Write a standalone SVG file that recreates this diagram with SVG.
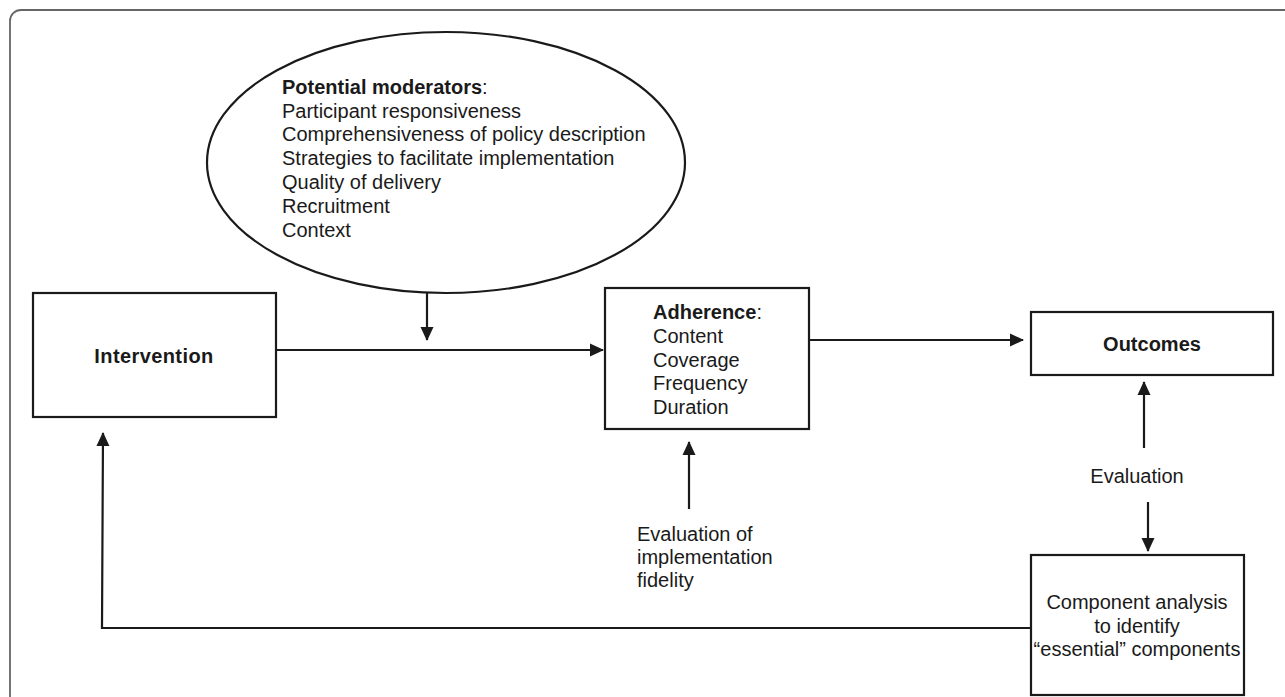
<svg xmlns="http://www.w3.org/2000/svg" width="1285" height="697" viewBox="0 0 1285 697">
<style>
.box{fill:#fff;stroke:#1a1a1a;stroke-width:2.2}
.t{font-family:"Liberation Sans",Arial,sans-serif;font-size:20px;fill:#1a1a1a}
.b{font-weight:bold}
.c{stroke:#1a1a1a;stroke-width:2.2;fill:none}
</style>
<defs>
<marker id="ah" markerWidth="14" markerHeight="14" refX="13" refY="7" orient="auto" markerUnits="userSpaceOnUse">
<path d="M0,0.5 L14,7 L0,13.5 Z" fill="#1a1a1a"/>
</marker>
</defs>
<rect width="1285" height="697" fill="#fff"/>
<rect x="10" y="10" width="1300" height="720" rx="11" fill="none" stroke="#666" stroke-width="1.8"/>

<g id="moderators">
<ellipse class="box" cx="446" cy="162.5" rx="239" ry="130.5"/>
<text class="t" x="282" y="94"><tspan class="b">Potential moderators</tspan>:</text>
<text class="t" x="282" y="117.5">Participant responsiveness</text>
<text class="t" x="282" y="141">Comprehensiveness of policy description</text>
<text class="t" x="282" y="165">Strategies to facilitate implementation</text>
<text class="t" x="282" y="189">Quality of delivery</text>
<text class="t" x="282" y="213">Recruitment</text>
<text class="t" x="282" y="237">Context</text>
</g>

<g id="intervention">
<rect class="box" x="33" y="293" width="243" height="124"/>
<text class="t b" x="154" y="363" text-anchor="middle" style="letter-spacing:0.4px">Intervention</text>
</g>

<g id="adherence">
<rect class="box" x="605" y="288" width="204" height="141"/>
<text class="t" x="653" y="319"><tspan class="b">Adherence</tspan>:</text>
<text class="t" x="653" y="343">Content</text>
<text class="t" x="653" y="366.5">Coverage</text>
<text class="t" x="653" y="390">Frequency</text>
<text class="t" x="653" y="413.5">Duration</text>
</g>

<g id="outcomes">
<rect class="box" x="1031" y="312" width="242" height="63"/>
<text class="t b" x="1152" y="351" text-anchor="middle">Outcomes</text>
</g>

<g id="component">
<rect class="box" x="1031" y="555" width="213" height="140"/>
<text class="t" x="1137" y="609" text-anchor="middle">Component analysis</text>
<text class="t" x="1137" y="632.5" text-anchor="middle">to identify</text>
<text class="t" x="1137" y="656" text-anchor="middle">“essential” components</text>
</g>

<g id="label-fidelity">
<text class="t" x="637" y="541">Evaluation of</text>
<text class="t" x="637" y="564">implementation</text>
<text class="t" x="637" y="587">fidelity</text>
</g>

<g id="label-evaluation">
<text class="t" x="1137" y="483" text-anchor="middle">Evaluation</text>
</g>

<g id="connectors">
<line class="c" x1="276" y1="350" x2="603" y2="350" marker-end="url(#ah)"/>
<line class="c" x1="427" y1="293" x2="427" y2="340" marker-end="url(#ah)"/>
<line class="c" x1="809" y1="340" x2="1023" y2="340" marker-end="url(#ah)"/>
<line class="c" x1="689" y1="509" x2="689" y2="442" marker-end="url(#ah)"/>
<line class="c" x1="1144" y1="448" x2="1144" y2="382" marker-end="url(#ah)"/>
<line class="c" x1="1148" y1="502" x2="1148" y2="551" marker-end="url(#ah)"/>
<polyline class="c" points="1031,628 102,628 103,433" marker-end="url(#ah)"/>
</g>
</svg>
